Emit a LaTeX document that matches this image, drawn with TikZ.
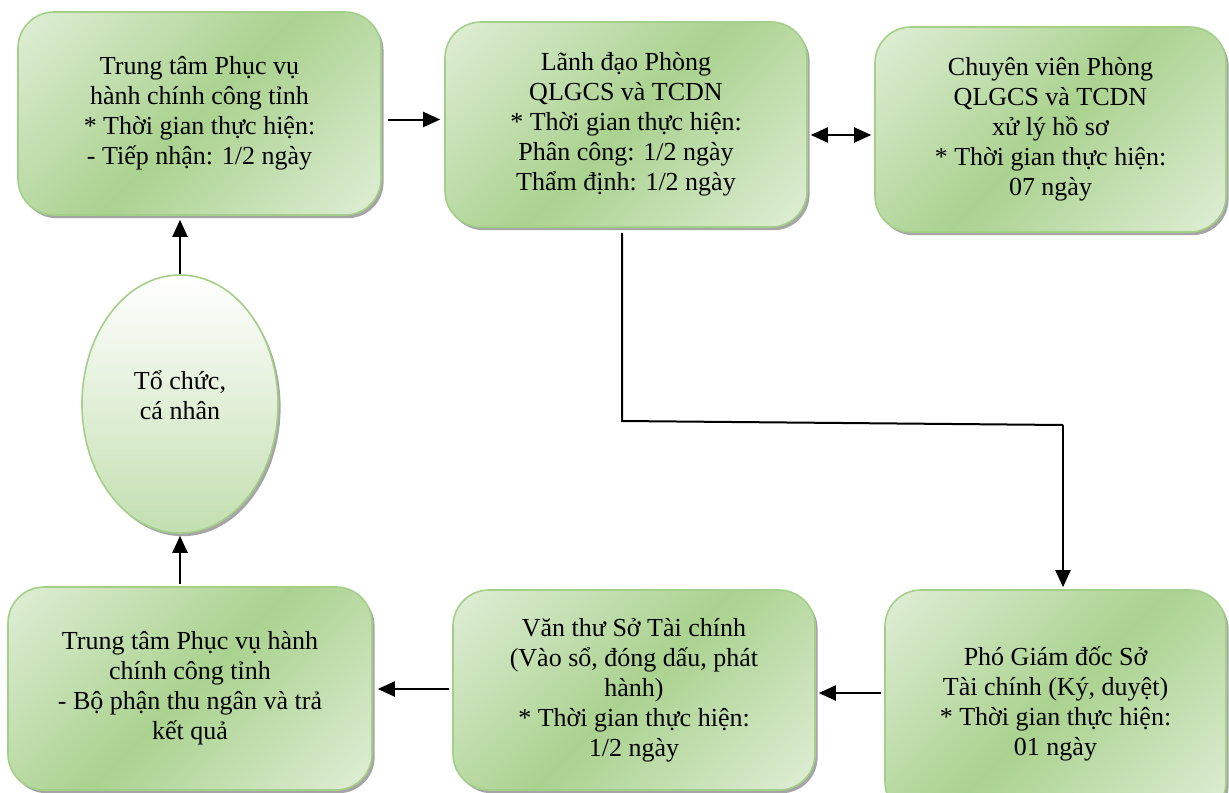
\documentclass[tikz,border=0pt]{standalone}
\usepackage{fontspec}
\setmainfont{Liberation Serif}
\usepackage{xcolor}
\usetikzlibrary{arrows.meta,shadows,shapes.geometric,calc}
\definecolor{lightg}{HTML}{E4F0DC}
\definecolor{darkg}{HTML}{AAD28F}
\definecolor{edgeg}{HTML}{A3CF88}
\definecolor{ovalbot}{HTML}{C3DFB0}
\pgfdeclareverticalshading{diagshade}{100bp}{color(0bp)=(lightg); color(12bp)=(lightg); color(50bp)=(darkg); color(88bp)=(lightg); color(100bp)=(lightg)}
\tikzset{
  stepbox/.style={rectangle, rounded corners=18pt, draw=edgeg, line width=0.8pt,
    shading=diagshade, shading angle=45,
    drop shadow={shadow xshift=1.3pt, shadow yshift=-1.6pt, fill=black!70, opacity=.5},
    align=center, inner sep=0pt, font=\fontsize{13pt}{15pt}\selectfont},
  ovalbox/.style={ellipse, draw=edgeg, line width=0.8pt,
    top color=white, bottom color=ovalbot,
    drop shadow={shadow xshift=1.3pt, shadow yshift=-1.6pt, fill=black!70, opacity=.5},
    align=center, inner sep=0pt, font=\fontsize{13pt}{15pt}\selectfont},
  arr/.style={line width=1pt, -{Triangle[length=8.5pt,width=7.5pt]}},
  dbl/.style={line width=1pt, {Triangle[length=8.5pt,width=7.5pt]}-{Triangle[length=8.5pt,width=7.5pt]}}
}
\begin{document}
\begin{tikzpicture}[x=0.5pt,y=-0.5pt]
\useasboundingbox (0,0) rectangle (1229,792);
\clip (0,0) rectangle (1229,792);
\node [stepbox, minimum width=181.5pt, minimum height=101.5pt] (tt1) at (199.5,113.5)
  {Trung tâm Phục vụ\\hành chính công tỉnh\\* Thời gian thực hiện:\\- Tiếp nhận: 1/2 ngày};
\node [stepbox, minimum width=181pt, minimum height=102.5pt] (ld) at (626,124.5)
  {Lãnh đạo Phòng\\QLGCS và TCDN\\* Thời gian thực hiện:\\Phân công: 1/2 ngày\\Thẩm định: 1/2 ngày};
\node [stepbox, minimum width=175.5pt, minimum height=102.5pt] (cv) at (1050.5,129.5)
  {Chuyên viên Phòng\\QLGCS và TCDN\\xử lý hồ sơ\\* Thời gian thực hiện:\\07 ngày};
\node [stepbox, minimum width=182pt, minimum height=101.5pt] (tt2) at (190,688.5)
  {Trung tâm Phục vụ hành\\chính công tỉnh\\- Bộ phận thu ngân và trả\\kết quả};
\node [stepbox, minimum width=181pt, minimum height=100pt] (vt) at (634,690)
  {Văn thư Sở Tài chính\\(Vào sổ, đóng dấu, phát\\hành)\\* Thời gian thực hiện:\\1/2 ngày};
\node [stepbox, minimum width=170.5pt, minimum height=114pt] (pgd) at (1055.5,704)
  {Phó Giám đốc Sở\\Tài chính (Ký, duyệt)\\* Thời gian thực hiện:\\01 ngày};
\node [ovalbox, minimum width=98pt, minimum height=129pt] (tc) at (180,404)
  {Tổ chức,\\cá nhân\\[-6pt]};
\coordinate (k1) at (622,421);
\coordinate (k2) at (1063,425);
\draw [arr] ($(tt1.east)+(6,6)$) -- ($(ld.west)+(-4,-5)$);
\draw [dbl] ($(ld.east)+(3,10.5)$) -- ($(cv.west)+(-3,5.5)$);
\draw [arr] (tc.north) -- ($(tc.north |- tt1.south)+(0,4)$);
\draw [arr] ($(tc.south |- tt2.north)+(0,-2)$) -- ($(tc.south)+(0,2)$);
\draw [line width=1pt] ($(ld.south)+(-4,5)$) -- (k1) -- (k2);
\draw [arr] (k2) -- ($(k2 |- pgd.north)+(0,-2)$);
\draw [arr] ($(pgd.west)+(-3,-11)$) -- ($(vt.east)+(3,3)$);
\draw [arr] ($(vt.west)+(-3,-1)$) -- ($(tt2.east)+(5,0.5)$);
\end{tikzpicture}
\end{document}
